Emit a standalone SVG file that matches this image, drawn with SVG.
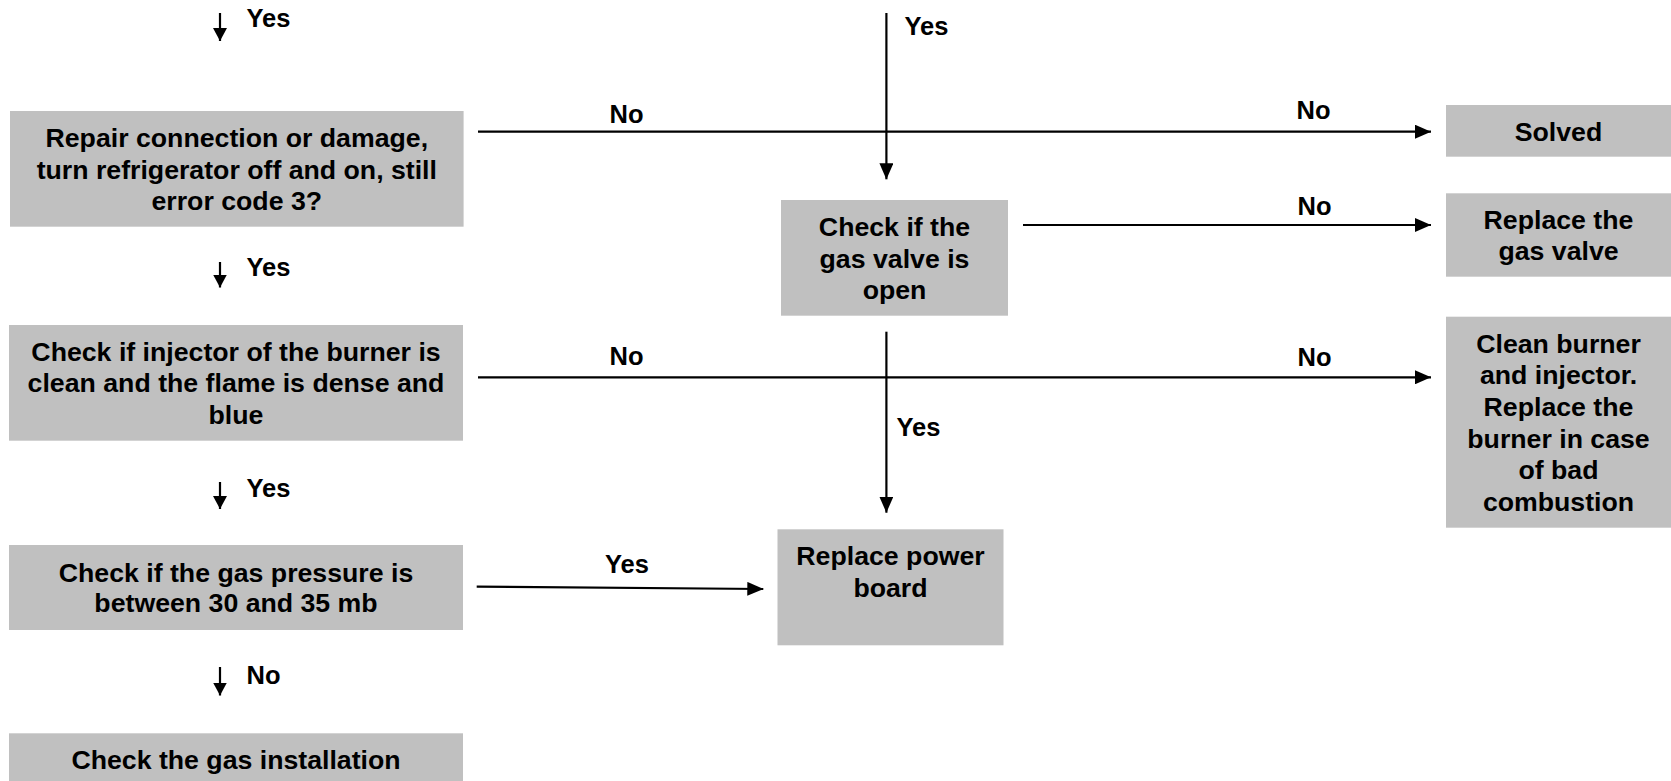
<svg xmlns="http://www.w3.org/2000/svg" width="1671" height="781" viewBox="0 0 1671 781">
<style>
.box{fill:#c0c0c0;stroke:none}
.t{font-family:"Liberation Sans",Arial,sans-serif;font-weight:bold;font-size:26.7px;fill:#000;text-anchor:middle}
.lbl{font-family:"Liberation Sans",Arial,sans-serif;font-weight:bold;font-size:25.5px;fill:#000}
.ln{stroke:#000;stroke-width:2.2;fill:none}
</style>
<defs>
<marker id="ah" markerUnits="userSpaceOnUse" markerWidth="16" markerHeight="14" refX="16" refY="7" orient="auto">
<path d="M0,0 L16,7 L0,14 Z" fill="#000"/>
</marker>
<marker id="ahs" markerUnits="userSpaceOnUse" markerWidth="13" markerHeight="14" refX="13" refY="7" orient="auto">
<path d="M0,0 L13,7 L0,14 Z" fill="#000"/>
</marker>
</defs>

<g id="connectors">
<line class="ln" x1="220" y1="13" x2="220" y2="41" marker-end="url(#ahs)"/>
<text class="lbl" x="246.5" y="27">Yes</text>
<line class="ln" x1="220" y1="262" x2="220" y2="287.5" marker-end="url(#ahs)"/>
<text class="lbl" x="246.5" y="276">Yes</text>
<line class="ln" x1="220" y1="482" x2="220" y2="509" marker-end="url(#ahs)"/>
<text class="lbl" x="246.5" y="497">Yes</text>
<line class="ln" x1="220" y1="667" x2="220" y2="695.5" marker-end="url(#ahs)"/>
<text class="lbl" x="246.5" y="683.5">No</text>

<line class="ln" x1="478" y1="131.7" x2="1431" y2="131.7" marker-end="url(#ah)"/>
<text class="lbl" x="609.5" y="122.7">No</text>
<text class="lbl" x="1296.5" y="118.5">No</text>

<line class="ln" x1="1023" y1="225" x2="1431" y2="225" marker-end="url(#ah)"/>
<text class="lbl" x="1297.5" y="215">No</text>

<line class="ln" x1="478" y1="377.3" x2="1431" y2="377.3" marker-end="url(#ah)"/>
<text class="lbl" x="609.5" y="365">No</text>
<text class="lbl" x="1297.5" y="366">No</text>

<line class="ln" x1="476.7" y1="586.7" x2="763.3" y2="589" marker-end="url(#ah)"/>
<text class="lbl" x="605" y="573.3">Yes</text>

<line class="ln" x1="886.4" y1="13" x2="886.4" y2="179.3" marker-end="url(#ah)"/>
<text class="lbl" x="904.5" y="35">Yes</text>

<line class="ln" x1="886.4" y1="331.7" x2="886.4" y2="512.7" marker-end="url(#ah)"/>
<text class="lbl" x="896.5" y="435.7">Yes</text>
</g>

<g id="n_repair">
<rect class="box" x="10" y="111" width="453.6" height="115.7"/>
<text class="t" x="236.8" y="147">Repair connection or damage,</text>
<text class="t" x="236.8" y="178.5">turn refrigerator off and on, still</text>
<text class="t" x="236.8" y="210">error code 3?</text>
</g>

<g id="n_injector">
<rect class="box" x="9" y="325" width="454" height="115.7"/>
<text class="t" x="236" y="360.5">Check if injector of the burner is</text>
<text class="t" x="236" y="392">clean and the flame is dense and</text>
<text class="t" x="236" y="423.5">blue</text>
</g>

<g id="n_pressure">
<rect class="box" x="9" y="545" width="454" height="85"/>
<text class="t" x="236" y="581.7">Check if the gas pressure is</text>
<text class="t" x="236" y="612">between 30 and 35 mb</text>
</g>

<g id="n_installation">
<rect class="box" x="9" y="733.3" width="454" height="48"/>
<text class="t" x="236" y="768.5">Check the gas installation</text>
</g>

<g id="n_gasvalve">
<rect class="box" x="781" y="200" width="227" height="115.7"/>
<text class="t" x="894.5" y="236">Check if the</text>
<text class="t" x="894.5" y="267.5">gas valve is</text>
<text class="t" x="894.5" y="299">open</text>
</g>

<g id="n_powerboard">
<rect class="box" x="777.5" y="529.3" width="226" height="116"/>
<text class="t" x="890.5" y="565.3">Replace power</text>
<text class="t" x="890.5" y="597.3">board</text>
</g>

<g id="n_solved">
<rect class="box" x="1446" y="105" width="225" height="51.7"/>
<text class="t" x="1558.5" y="141">Solved</text>
</g>

<g id="n_replacevalve">
<rect class="box" x="1446" y="193.3" width="225" height="83.4"/>
<text class="t" x="1558.5" y="229">Replace the</text>
<text class="t" x="1558.5" y="260.3">gas valve</text>
</g>

<g id="n_clean">
<rect class="box" x="1446" y="316.7" width="225" height="211"/>
<text class="t" x="1558.5" y="352.7">Clean burner</text>
<text class="t" x="1558.5" y="384.3">and injector.</text>
<text class="t" x="1558.5" y="416">Replace the</text>
<text class="t" x="1558.5" y="447.7">burner in case</text>
<text class="t" x="1558.5" y="479.3">of bad</text>
<text class="t" x="1558.5" y="511">combustion</text>
</g>
</svg>
